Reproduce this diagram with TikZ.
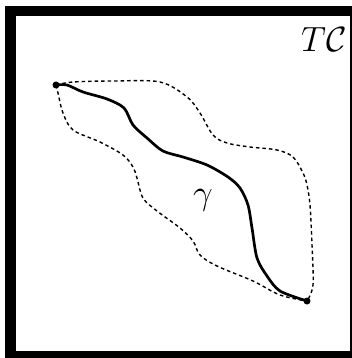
\RequirePackage{fix-cm}
\documentclass[tikz,border=0pt]{standalone}
\begin{document}
\begin{tikzpicture}[x=1pt,y=-1pt,
  frameline/.style={line width=10.5pt},
  pathline/.style={line width=2.7pt,line join=round,line cap=round},
  regionline/.style={line width=1.4pt,dash pattern=on 3.5pt off 3pt},
  endpt/.style={circle,fill=black,inner sep=0pt,minimum size=7pt},
  biglabel/.style={inner sep=0pt,font=\fontsize{35}{42}\selectfont}]
\useasboundingbox (0,0) rectangle (352,358);
\clip (0,0) rectangle (352,358);
\fill[white] (0,0) rectangle (352,358);
\draw[frameline] (10.5,11) rectangle (355.5,356.5);
\coordinate (s) at (56,85);
\coordinate (e) at (307,301);
% dotted region
\draw[regionline] plot[smooth,tension=0.55] coordinates {(s) (73,82) (113,81) (160,82) (187,97) (200,113) (213,135) (227,143) (250,147) (277,150) (293,157) (303,173) (307,185) (310,205) (312,245) (313,285) (e)};
\draw[regionline] plot[smooth,tension=0.55] coordinates {(s) (58,93) (63,113) (73,130) (100,142) (123,155) (133,167) (137,178) (143,198) (157,211) (180,228) (193,241) (200,255) (217,266) (253,281) (280,295) (e)};
% solid path
\draw[pathline] plot[smooth,tension=0.5] coordinates {(s) (67,85) (83,92) (107,99) (124,108) (133,125) (147,138) (163,151) (183,157) (207,165) (228,177) (240,188) (248,205) (252,228) (257,258) (267,276) (280,291) (e)};
\node[endpt] (a) at (s) {};
\node[endpt] (b) at (e) {};
\node[biglabel,anchor=base] (g) at (203,204) {$\gamma$};
\node[biglabel,anchor=base west] (tc) at (301,52) {$T\mathcal{C}$};
\end{tikzpicture}
\end{document}
